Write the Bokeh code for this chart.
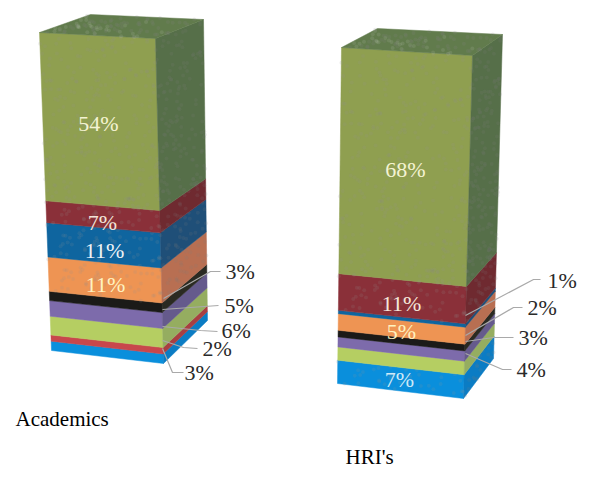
from bokeh.core.properties import value
from bokeh.embed import file_html
from bokeh.models import Range1d
from bokeh.plotting import figure
from bokeh.resources import INLINE
import numpy as np

# Shares of each stacked block, listed from the bottom layer upward
academics_shares = [3, 2, 6, 5, 3, 11, 11, 7, 54]
academics_front = ["#0a8fdc", "#c8474c", "#b5ce62", "#7d6bab", "#1b1a18", "#ee9453", "#0f659f", "#8a3039", "#8f9f50"]
academics_side = ["#0b7cc4", "#a83f42", "#95ad60", "#655a8c", "#2a2a22", "#b86f52", "#1f4f78", "#6f2a30", "#566f49"]

hri_shares = [7, 4, 3, 2, 5, 1, 11, 68]
hri_front = ["#0a8fdc", "#b5ce62", "#7d6bab", "#1b1a18", "#ee9453", "#0f659f", "#8a3039", "#8f9f50"]
hri_side = ["#0b7cc4", "#95ad60", "#655a8c", "#2a2a22", "#b86f52", "#1f4f78", "#6f2a30", "#566f49"]

top_green = "#617b4c"

# Projected corners of each block: front-left, front-right and back-right edges
academics_box = {
    "fl": ((51, 350), (39, 32)), "fr": ((163, 363), (155, 38)),
    "br": ((207, 320), (203, 19)), "bl_top": (90, 14),
}
hri_box = {
    "fl": ((337, 383), (341, 47)), "fr": ((463, 398), (472, 55)),
    "br": ((493, 358), (502, 34)), "bl_top": (377, 28),
}

p = figure(width=589, height=477, output_backend="svg", toolbar_location=None,
           x_range=Range1d(0, 589), y_range=Range1d(477, 0), min_border=0,
           outline_line_color=None)
p.axis.visible = False
p.grid.visible = False


def edge(seg, t):
    (x0, y0), (x1, y1) = seg
    return x0 + (x1 - x0) * t, y0 + (y1 - y0) * t


def hashed(i, seed):
    # Repeatable scatter for the paper-like grain on the faces
    return (np.sin(i * seed) * 43758.5453) % 1


def speckle(quad, n, color, alpha, size):
    i = np.arange(1, n + 1, dtype=float)
    u, v = hashed(i, 12.9898), hashed(i, 78.233)
    q = np.array(quad, dtype=float)
    pts = ((1 - u) * (1 - v))[:, None] * q[0] + (u * (1 - v))[:, None] * q[1] \
        + (u * v)[:, None] * q[2] + ((1 - u) * v)[:, None] * q[3]
    p.scatter(pts[:, 0], pts[:, 1], size=size, color=color, alpha=alpha, line_color=None)


def draw_block(shares, front, side, box):
    total = sum(shares)
    cum = np.cumsum([0] + shares) / total
    for k in range(len(shares)):
        a, b = cum[k], cum[k + 1]
        f = [edge(box["fl"], a), edge(box["fr"], a), edge(box["fr"], b), edge(box["fl"], b)]
        s = [edge(box["fr"], a), edge(box["br"], a), edge(box["br"], b), edge(box["fr"], b)]
        p.patch(*zip(*f), fill_color=front[k], line_color=front[k], line_width=0.5)
        p.patch(*zip(*s), fill_color=side[k], line_color=side[k], line_width=0.5)
        if shares[k] >= 7:
            count = shares[k] * 5
            speckle(f, count, "#ffffff", 0.09, 4)
            speckle(f, count, "#000000", 0.06, 4)
            speckle(s, count // 2, "#ffffff", 0.08, 4)
            speckle(s, count // 2, "#000000", 0.07, 4)
    top = [edge(box["fl"], 1), edge(box["fr"], 1), edge(box["br"], 1), box["bl_top"]]
    p.patch(*zip(*top), fill_color=top_green, line_color=top_green, line_width=0.5)
    speckle(top, 90, "#ffffff", 0.09, 4)
    speckle(top, 60, "#000000", 0.07, 4)


draw_block(academics_shares, academics_front, academics_side, academics_box)
draw_block(hri_shares, hri_front, hri_side, hri_box)

# Leader lines running from the block's side out to the outer labels
leaders = [
    ([163, 210, 220], [298, 271, 271]),
    ([162, 218], [309, 305]),
    ([162, 200, 217], [326, 330, 331]),
    ([162, 183, 197], [340, 347, 348]),
    ([162, 172, 183], [348, 372, 372]),
    ([465, 533, 540], [315, 279, 279]),
    ([465, 513, 522], [335, 307, 307]),
    ([465, 493, 513], [341, 337, 337]),
    ([465, 502, 511], [353, 369, 369]),
]
for xs, ys in leaders:
    p.line(xs, ys, line_color="#a9a9a9", line_width=1.2)

outer_text = ["3%", "5%", "6%", "2%", "3%", "1%", "2%", "3%", "4%"]
outer_x = [225, 224, 221, 202, 184, 547, 527, 518, 516]
outer_y = [283, 317, 342, 360, 384, 292, 319, 349, 381]
for x, y, t in zip(outer_x, outer_y, outer_text):
    p.text([x], [y], text=[t], text_font=value("Times New Roman"), text_font_size="22px",
           text_color="#2a2a2a")

inner_text = ["54%", "7%", "11%", "11%", "68%", "11%", "5%", "7%"]
inner_x = [98, 102, 104, 105, 405, 401, 401, 399]
inner_y = [135, 234, 262, 296, 181, 315, 343, 391]
inner_color = ["#f4f3d2", "#f3e4da", "#eef2f6", "#fff2c0", "#f4f3d2", "#f5e6da", "#fff2c0", "#cfeaf8"]
for x, y, t, c in zip(inner_x, inner_y, inner_text, inner_color):
    p.text([x], [y], text=[t], text_font=value("Times New Roman"), text_font_size="22px",
           text_color=c, text_align="center")

captions = ["Academics", "HRI's"]
for x, y, t in zip([15, 345], [430, 468], captions):
    p.text([x], [y], text=[t], text_font=value("Times New Roman"), text_font_size="21px")

open("out.html", "w").write(file_html(p, INLINE))
